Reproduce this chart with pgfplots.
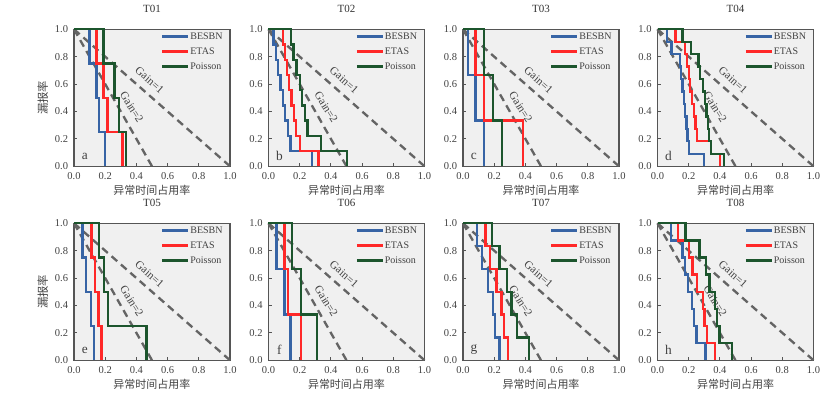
\documentclass[border=0pt]{standalone}
\usepackage{fontspec}
\setmainfont{Liberation Serif}
\newfontfamily\cjk{Noto Sans CJK SC}
\usepackage{pgfplots}
\pgfplotsset{compat=1.18}
\usepgfplotslibrary{groupplots}
\usetikzlibrary{calc}

\definecolor{cBESBN}{RGB}{55,100,165}
\definecolor{cETAS}{RGB}{255,40,40}
\definecolor{cPois}{RGB}{28,85,45}
\definecolor{cGain}{RGB}{100,100,100}
\definecolor{cBack}{RGB}{240,240,240}
\definecolor{cFrame}{RGB}{85,85,85}
\definecolor{cText}{RGB}{65,65,65}

\pgfplotsset{
  roc/.style={
    scale only axis, width=93.6pt, height=82.2pt,
    xmin=0, xmax=1, ymin=0, ymax=1,
    xtick={0,0.2,0.4,0.6,0.8,1}, ytick={0,0.2,0.4,0.6,0.8,1},
    /pgf/number format/.cd, fixed, fixed zerofill, precision=1, assume math mode=true,
    /pgfplots/.cd,
    tick align=inside, xtick pos=bottom, ytick pos=left, major tick length=2pt,
    axis background/.style={fill=cBack},
    axis line style={cFrame, line width=0.9pt},
    tick style={cFrame, line width=0.6pt},
    ticklabel style={font=\fontsize{6.3}{7}\selectfont, text=cText},
    title style={at={(axis description cs:0.5,1.073)}, anchor=center, font=\fontsize{6.6}{7}\selectfont, text=black!80},
    xlabel={\cjk 异常时间占用率},
    xlabel style={at={(axis description cs:0.5,-0.175)}, anchor=center, font=\fontsize{6.6}{7}\selectfont, text=cText},
    ylabel style={at={(axis description cs:-0.2,0.5)}, anchor=center, font=\fontsize{6.8}{7}\selectfont, text=cText},
    legend style={draw=none, fill=none, inner sep=0pt, at={(0.96,0.985)}, anchor=north east,
      font=\fontsize{6}{6}\selectfont, text=cText, row sep=3pt,
      nodes={inner sep=0.5pt, text height=4pt, text depth=1pt}},
    legend cell align=left,
    legend image code/.code={\draw[#1] (0pt,0pt) -- (15.6pt,0pt);},
    clip=false,
  },
  gain/.style={cGain, line width=1.4pt, dash pattern=on 4.5pt off 3pt, forget plot},
  sB/.style={cBESBN, line width=1.4pt, const plot},
  sE/.style={cETAS, line width=1.4pt, const plot},
  sP/.style={cPois, line width=1.4pt, const plot},
}

\newcommand{\gains}[1]{%
  \addplot[gain] coordinates {(0,1) (1,0)};
  \addplot[gain] coordinates {(0,1) (0.5,0)};
  \node[rotate=-41.5, font=\fontsize{6.8}{7}\selectfont, text=cText, inner sep=0pt] at (axis cs:0.485,0.63) {Gain=1};
  \node[rotate=-58, font=\fontsize{6.8}{7}\selectfont, text=cText, inner sep=0pt] at (axis cs:0.37,0.43) {Gain=2};
  \node[font=\fontsize{8}{8}\selectfont, text=cText] at (axis cs:0.07,0.075) {#1};
}

\begin{document}
\begin{tikzpicture}
\begin{groupplot}[group style={group size=4 by 2, horizontal sep=23.1pt, vertical sep=34.2pt}, roc]

\nextgroupplot[title=T01, ylabel={\cjk 漏报率}]
\gains{a}
\addplot[sB] coordinates {(0,1) (0.10,0.75) (0.145,0.5) (0.16,0.25) (0.20,0)};
\addplot[sE] coordinates {(0,1) (0.145,0.75) (0.19,0.5) (0.215,0.25) (0.31,0)};
\addplot[sP] coordinates {(0,1) (0.19,0.75) (0.26,0.5) (0.29,0.25) (0.333,0)};
\legend{BESBN,ETAS,Poisson}

\nextgroupplot[title=T02]
\gains{b}
\addplot[sB] coordinates {(0,1) (0.033,0.889) (0.048,0.778) (0.062,0.667) (0.077,0.556) (0.092,0.444) (0.107,0.333) (0.123,0.222) (0.14,0.111) (0.277,0)};
\addplot[sE] coordinates {(0,1) (0.092,0.889) (0.107,0.778) (0.12,0.667) (0.133,0.556) (0.148,0.444) (0.162,0.333) (0.177,0.222) (0.2,0.111) (0.32,0)};
\addplot[sP] coordinates {(0,1) (0.144,0.889) (0.16,0.778) (0.18,0.667) (0.2,0.556) (0.215,0.444) (0.232,0.333) (0.25,0.222) (0.338,0.111) (0.505,0)};
\legend{BESBN,ETAS,Poisson}

\nextgroupplot[title=T03]
\gains{c}
\addplot[sB] coordinates {(0,1) (0.032,0.667) (0.081,0.333) (0.133,0)};
\addplot[sE] coordinates {(0,1) (0.081,0.667) (0.133,0.333) (0.385,0)};
\addplot[sP] coordinates {(0,1) (0.135,0.667) (0.193,0.333) (0.25,0)};
\legend{BESBN,ETAS,Poisson}

\nextgroupplot[title=T04]
\gains{d}
\addplot[sB] coordinates {(0,1) (0.06,0.909) (0.09,0.818) (0.145,0.727) (0.152,0.636) (0.16,0.545) (0.17,0.455) (0.178,0.364) (0.186,0.273) (0.193,0.182) (0.2,0.091) (0.296,0)};
\addplot[sE] coordinates {(0,1) (0.115,0.909) (0.175,0.818) (0.19,0.727) (0.2,0.636) (0.21,0.545) (0.22,0.455) (0.232,0.364) (0.244,0.273) (0.254,0.182) (0.342,0.091) (0.402,0)};
\addplot[sP] coordinates {(0,1) (0.16,0.909) (0.215,0.818) (0.263,0.727) (0.272,0.636) (0.29,0.545) (0.305,0.455) (0.315,0.364) (0.322,0.273) (0.33,0.182) (0.342,0.091) (0.427,0)};
\legend{BESBN,ETAS,Poisson}

\nextgroupplot[title=T05, ylabel={\cjk 漏报率}]
\gains{e}
\addplot[sB] coordinates {(0,1) (0.055,0.75) (0.077,0.5) (0.107,0.25) (0.13,0)};
\addplot[sE] coordinates {(0,1) (0.113,0.75) (0.134,0.5) (0.158,0.25) (0.177,0)};
\addplot[sP] coordinates {(0,1) (0.162,0.75) (0.194,0.5) (0.22,0.25) (0.464,0)};
\legend{BESBN,ETAS,Poisson}

\nextgroupplot[title=T06]
\gains{f}
\addplot[sB] coordinates {(0,1) (0.052,0.667) (0.102,0.333) (0.142,0)};
\addplot[sE] coordinates {(0,1) (0.102,0.667) (0.124,0.333) (0.21,0)};
\addplot[sP] coordinates {(0,1) (0.152,0.667) (0.21,0.333) (0.31,0)};
\legend{BESBN,ETAS,Poisson}

\nextgroupplot[title=T07]
\gains{g}
\addplot[sB] coordinates {(0,1) (0.09,0.833) (0.12,0.667) (0.162,0.5) (0.194,0.333) (0.207,0.167) (0.235,0)};
\addplot[sE] coordinates {(0,1) (0.145,0.833) (0.175,0.667) (0.214,0.5) (0.246,0.333) (0.262,0.167) (0.29,0)};
\addplot[sP] coordinates {(0,1) (0.188,0.833) (0.235,0.667) (0.283,0.5) (0.31,0.333) (0.347,0.167) (0.424,0)};
\legend{BESBN,ETAS,Poisson}

\nextgroupplot[title=T08]
\gains{h}
\addplot[sB] coordinates {(0,1) (0.087,0.875) (0.16,0.75) (0.175,0.625) (0.195,0.5) (0.22,0.375) (0.235,0.25) (0.25,0.125) (0.308,0)};
\addplot[sE] coordinates {(0,1) (0.13,0.875) (0.203,0.75) (0.224,0.625) (0.255,0.5) (0.29,0.375) (0.302,0.25) (0.316,0.125) (0.37,0)};
\addplot[sP] coordinates {(0,1) (0.18,0.875) (0.27,0.75) (0.313,0.625) (0.333,0.5) (0.37,0.375) (0.38,0.25) (0.397,0.125) (0.478,0)};
\legend{BESBN,ETAS,Poisson}

\end{groupplot}
\path ($(group c1r1.north west)+(-44.4pt,12.6pt)$) rectangle ($(group c4r2.south east)+(14.1pt,-24.6pt)$);
\end{tikzpicture}
\end{document}
